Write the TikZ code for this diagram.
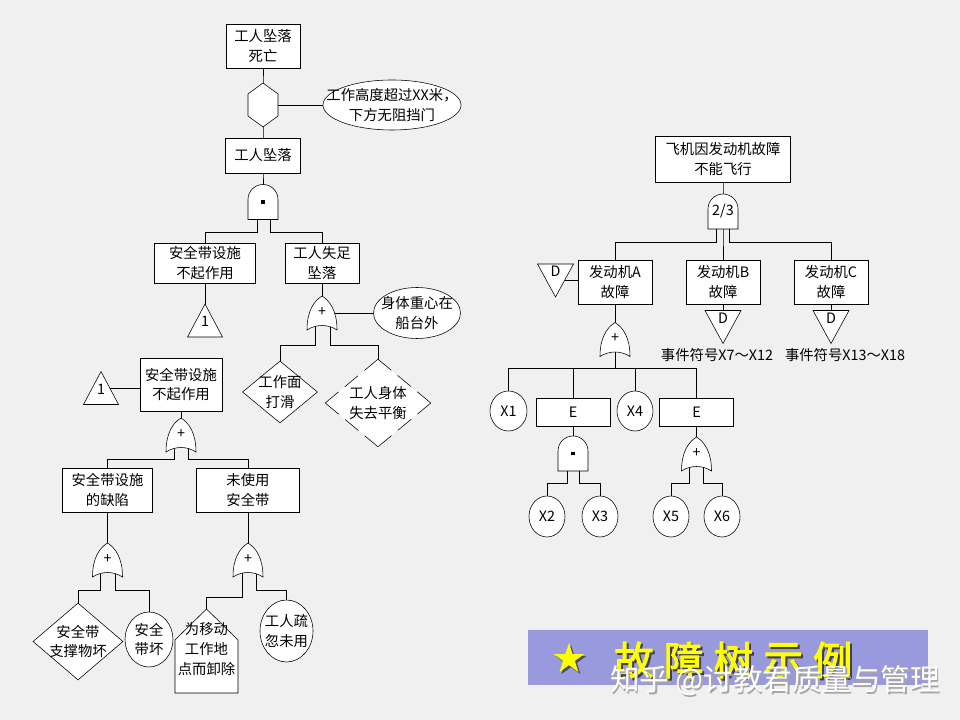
\documentclass[tikz,border=0pt]{standalone}
\usepackage{fontspec}
\setmainfont{Noto Sans CJK SC}
\newfontfamily\bannerfont[FakeBold=2.5]{Noto Sans CJK SC}
\usetikzlibrary{calc,shapes.geometric}
\pgfdeclarelayer{background}
\pgfsetlayers{background,main}
\definecolor{paper}{RGB}{240,240,240}
\definecolor{banner}{RGB}{153,153,221}
\definecolor{gold}{RGB}{255,255,0}
\newcommand\pxl{0.025cm}
\tikzset{
	every node/.style={font=\fontsize{10.2}{14}\selectfont, inner sep=0pt},
	sz/.style 2 args={minimum width=#1*\pxl, minimum height=#2*\pxl},
	ev/.style={draw, fill=white, rectangle, align=center},
	ell/.style={draw, fill=white, ellipse},
	dia/.style={draw, fill=white, diamond},
	lbl/.style={align=center},
	gatebox/.style={sz={30}{35}},
	dashdia/.style={dash pattern=on 0.425cm off 0.2125cm, line cap=round},
}
% gates and transfer symbols: (name)(position){text}
\def\orgate(#1)(#2){\node[gatebox] (#1) at (#2) {};
	\draw[fill=white, shift={(#2)}] (0,-17) .. controls (8,-12) and (15,-2) .. (15,17) .. controls (6,11) and (-6,11) .. (-15,17) .. controls (-15,-2) and (-8,-12) .. (0,-17) -- cycle;
	\node (#1t) at ($(#1)+(0,-1)$) {+};}
\def\andgate(#1)(#2)#3{\node[gatebox] (#1) at (#2) {};
	\draw[fill=white, shift={(#2)}] (-15,17.5) -- (-15,-2.5) arc (180:360:15) -- (15,17.5) -- cycle;
	\node (#1t) at (#1) {#3};}
\def\inhgate(#1)(#2){\node[sz={30}{44}] (#1) at (#2) {};
	\draw[fill=white, shift={(#2)}] (0,-22) -- (15,-11) -- (15,11) -- (0,22) -- (-15,11) -- (-15,-11) -- cycle;}
\def\transup(#1)(#2)#3{\node[sz={35}{33}] (#1) at (#2) {};
	\draw[fill=white, shift={(#2)}] (0,-16.5) -- (17.5,16.5) -- (-17.5,16.5) -- cycle;
	\node (#1t) at ($(#1)+(0,1)$) {#3};}
\def\transdown(#1)(#2)#3{\node[sz={36}{33}] (#1) at (#2) {};
	\draw[fill=white, shift={(#2)}] (-18,-16.5) -- (18,-16.5) -- (0,16.5) -- cycle;
	\node (#1t) at ($(#1)+(0,-9)$) {#3};}
\def\house(#1)(#2)#3{\node[sz={63}{84}] (#1) at (#2) {};
	\draw[fill=white, shift={(#2)}] (0,-42) -- (31.5,-11) -- (31.5,42) -- (-31.5,42) -- (-31.5,-11) -- cycle;
	\node[align=center] (#1t) at ($(#1)+(0,-2)$) {#3};}

\begin{document}
\begin{tikzpicture}[x=0.025cm, y=-0.025cm, line width=2pt]
	%%%%% START %%%%%
	\useasboundingbox (0,0) rectangle (960,720);
	\begin{pgfonlayer}{background}
		\fill[paper] (0,0) rectangle (960,720);
	\end{pgfonlayer}
	
	% worker falls
	\node[ev, sz={74}{44}] (top1) at (263,46) {工人坠落\\死亡};
	\inhgate(hex1)(263,105)
	\node[ell, sz={138}{50}, label={[lbl]center:工作高度超过XX米，\\下方无阻挡门}] (cond1) at (392,105) {};
	\node[ev, sz={75}{35}] (fall) at (263,155.5) {工人坠落};
	\andgate(and1)(263,202){\rule{2.2pt}{2.2pt}}
	\node[ev, sz={101}{40}] (belt1) at (205,263) {安全带设施\\不起作用};
	\node[ev, sz={74}{40}] (slip) at (322,263) {工人失足\\坠落};
	\transup(tri1)(205,320.5){1}
	\orgate(or1)(322,313)
	\node[ell, sz={87}{51}, label={[lbl]center:身体重心在\\船台外}] (cond2) at (417,313) {};
	\node[dia, sz={75}{62}, label={[lbl]center:工作面\\打滑}] (slide) at (280,392) {};
	\node[dia, draw=none, sz={105}{87}, label={[lbl]center:工人身体\\失去平衡}] (lose) at (378,403) {};
	\draw[dashdia] (lose.north) -- (lose.east) (lose.east) -- (lose.south) (lose.south) -- (lose.west) (lose.west) -- (lose.north);
	
	% belt does not work
	\transup(tri2)(101,388){1}
	\node[ev, sz={82}{53}] (belt2) at (181,384.5) {安全带设施\\不起作用};
	\orgate(or2)(181,435)
	\node[ev, sz={90}{44}] (flaw) at (107.5,490) {安全带设施\\的缺陷};
	\node[ev, sz={103}{44}] (nouse) at (248,490) {未使用\\安全带};
	\orgate(or3)(107.5,560)
	\orgate(or4)(248,560)
	\node[dia, sz={90}{77}, label={[lbl]center:安全带\\支撑物坏}] (prop) at (78,641.5) {};
	\node[ell, sz={48}{55}, label={[lbl]center:安全\\带坏}] (broken) at (149,639.5) {};
	\house(remove)(206.5,651){为移动\\工作地\\点而卸除}
	\node[ell, sz={53}{62}, label={[lbl]center:工人疏\\忽未用}] (forget) at (286.5,631) {};
	
	% aircraft
	\node[ev, sz={135}{46}] (plane) at (723,159) {飞机因发动机故障\\不能飞行};
	\andgate(and2)(723,211.5){2/3}
	\node[ev, sz={74}{44}] (engA) at (615,282) {发动机A\\故障};
	\node[ev, sz={74}{44}] (engB) at (723,282) {发动机B\\故障};
	\node[ev, sz={74}{44}] (engC) at (831,282) {发动机C\\故障};
	\transdown(dA)(555.5,280.5){D}
	\transdown(dB)(723,327){D}
	\transdown(dC)(831,327){D}
	\node (noteB) at (717,355) {事件符号X7～X12};
	\node (noteC) at (845,355) {事件符号X13～X18};
	\orgate(or5)(615,339.5)
	\node[ell, sz={37}{40}] (x1) at (508.5,411) {X1};
	\node[ev, sz={74}{28}] (e1) at (573,412) {E};
	\node[ell, sz={36}{40}] (x4) at (635,411) {X4};
	\node[ev, sz={74}{28}] (e2) at (696.5,412) {E};
	\andgate(and3)(573,453.5){\rule{2.2pt}{2.2pt}}
	\orgate(or6)(696.5,454)
	\node[ell, sz={36}{41}] (x2) at (547,516.5) {X2};
	\node[ell, sz={36}{41}] (x3) at (600,516.5) {X3};
	\node[ell, sz={36}{41}] (x5) at (671,516.5) {X5};
	\node[ell, sz={36}{41}] (x6) at (722,516.5) {X6};
	
	% connectors
	\begin{pgfonlayer}{background}
		\draw (top1.center) -- (hex1.center) -- (fall.center) -- (and1.center);
		\draw (hex1.center) -- (cond1.center);
		\draw ($(and1)+(-6,0)$) -- ++(0,30) -| (belt1.center);
		\draw ($(and1)+(7,0)$) -- ++(0,30) -| (slip.center);
		\draw (belt1.center) -- (tri1.center);
		\draw (slip.center) -- (or1.center) -- (cond2.center);
		\draw ($(or1)+(-7,0)$) -- ++(0,32) -| (slide.center);
		\draw ($(or1)+(8,0)$) -- ++(0,32) -| (lose.center);
		
		\draw (tri2.center) -- (tri2 -| belt2);
		\draw (belt2.center) -- (or2.center);
		\draw ($(or2)+(-7,0)$) -- ++(0,24) -| (flaw.center);
		\draw ($(or2)+(7,0)$) -- ++(0,24) -| (nouse.center);
		\draw (flaw.center) -- (or3.center);
		\draw (nouse.center) -- (or4.center);
		\draw ($(or3)+(-7,0)$) -- ++(0,30) -| (prop.center);
		\draw ($(or3)+(8,0)$) -- ++(0,30) -| (broken.center);
		\draw ($(or4)+(-6,0)$) -- ++(0,37) -| (remove.center);
		\draw ($(or4)+(8,0)$) -- ++(0,30) -| (forget.center);
		
		\draw (plane.center) -- (and2.center) -- (engB.center);
		\draw ($(and2)+(-7,0)$) -- ++(0,30.5) -| (engA.center);
		\draw ($(and2)+(6,0)$) -- ++(0,30.5) -| (engC.center);
		\draw (dA.center) -- (dA -| engA);
		\draw (engB.center) -- (dB.center);
		\draw (engC.center) -- (dC.center);
		\draw (engA.center) -- (or5.center);
		\foreach \kid in {x1,e1,x4,e2}
			\draw (or5.center) -- ++(0,28.5) -| (\kid.center);
		\draw (e1.center) -- (and3.center);
		\draw (e2.center) -- (or6.center);
		\draw ($(and3)+(-6,0)$) -- ++(0,29.5) -| (x2.center);
		\draw ($(and3)+(6,0)$) -- ++(0,29.5) -| (x3.center);
		\draw ($(or6)+(-7,0)$) -- ++(0,29) -| (x5.center);
		\draw ($(or6)+(7,0)$) -- ++(0,29) -| (x6.center);
	\end{pgfonlayer}
	
	% banner
	\fill[banner] (528,630) rectangle (928,685);
	\node[star, star points=5, star point ratio=2.6, minimum size=32*\pxl, fill=black!70] (starsh) at (571,661) {};
	\node[star, star points=5, star point ratio=2.6, minimum size=32*\pxl, fill=gold] (star) at (569,659) {};
	\foreach \ch [count=\i from 0] in {故,障,树,示,例} {
		\node[font=\bannerfont\fontsize{28}{30}\selectfont, text=black!75] (ts\i) at (636+49.7*\i,662) {\ch};
		\node[font=\bannerfont\fontsize{28}{30}\selectfont, text=gold] (t\i) at (634+49.7*\i,660) {\ch};
	}
	\node[font=\fontsize{21}{24}\selectfont, text=black!35] (marksh) at (776.5,682.5) {知乎 @讨教君质量与管理};
	\node[font=\fontsize{21}{24}\selectfont, text=white] (mark) at (775,681) {知乎 @讨教君质量与管理};
	
	%%%%% END %%%%%
\end{tikzpicture}
\end{document}
